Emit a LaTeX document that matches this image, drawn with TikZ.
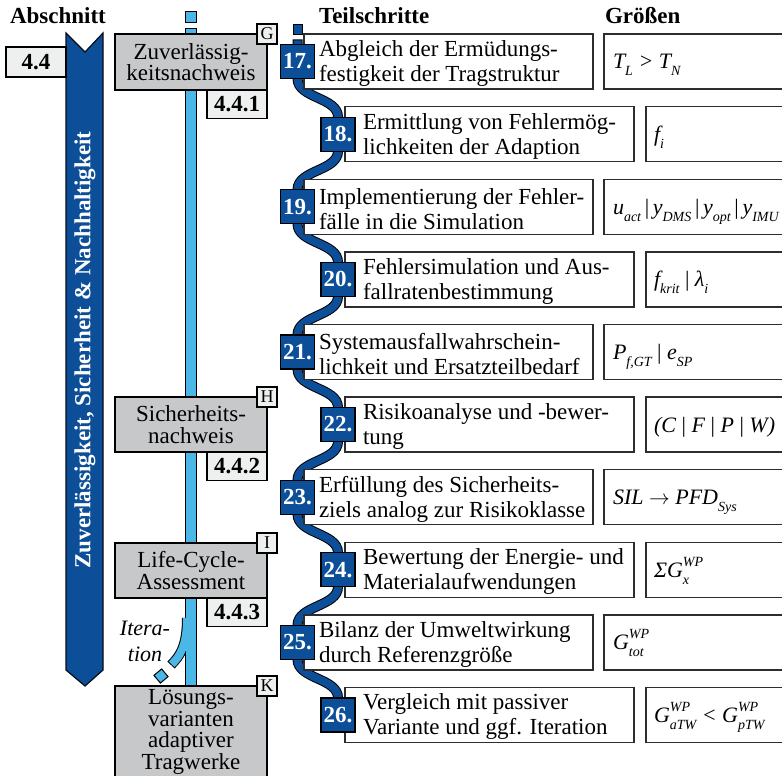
\documentclass[tikz,border=0pt]{standalone}
\usepackage{fontspec}
\setmainfont{Liberation Serif}

\definecolor{dblue}{RGB}{12,78,152}
\definecolor{lblue}{RGB}{74,183,230}
\definecolor{boxgrey}{RGB}{199,200,201}
\definecolor{tagfill}{RGB}{238,239,239}
\definecolor{edge}{RGB}{45,45,45}

\pgfdeclarelayer{paper}
\pgfdeclarelayer{flow}
\pgfsetlayers{paper,flow,main}

% sub- and superscripts for the quantities column
\newcommand\subx[1]{\raisebox{-7pt}{\fontsize{14}{14}\selectfont\itshape #1}}
\newcommand\supx[1]{\raisebox{11pt}{\fontsize{14}{14}\selectfont\itshape #1}}
\newsavebox\upbox
\newsavebox\dnbox
\newcommand\supsubx[2]{\sbox\upbox{\supx{#1}}\sbox\dnbox{\subx{#2}}%
  \ifdim\wd\upbox>\wd\dnbox\rlap{\usebox\dnbox}\usebox\upbox\else\rlap{\usebox\upbox}\usebox\dnbox\fi}
\newcommand\vsep{\,\textup{|}\,}

\begin{document}
\begin{tikzpicture}[x=1pt,y=-1pt,
  every node/.style={inner sep=0pt,outer sep=0pt},
  head/.style={font=\fontsize{23}{25}\selectfont\bfseries,anchor=base west},
  greybox/.style={draw=black,line width=1.2pt,fill=boxgrey,minimum width=152pt,align=center,font=\fontsize{23}{21.5}\selectfont},
  lettertag/.style={draw=black,line width=1.1pt,fill=tagfill,minimum width=20pt,minimum height=20pt,font=\fontsize{18}{18}\selectfont},
  sectag/.style={draw=black,line width=1.2pt,fill=tagfill,minimum width=60pt,minimum height=28.5pt,anchor=north east,font=\fontsize{23}{23}\selectfont\bfseries},
  stepbox/.style={draw=edge,line width=1.4pt,fill=white,minimum width=289pt,minimum height=55pt,anchor=west},
  numbox/.style={draw=black,line width=1.2pt,fill=dblue,minimum width=34pt,minimum height=34pt,text=white,font=\fontsize{23}{23}\selectfont\bfseries},
  steptext/.style={anchor=west,align=left,font=\fontsize{23}{25}\selectfont},
  valbox/.style={draw=edge,line width=1.4pt,fill=white,minimum height=55pt,anchor=west},
  oddval/.style={valbox,minimum width=184pt},
  evenval/.style={valbox,minimum width=142pt},
  valtext/.style={anchor=base west,font=\fontsize{22}{22}\selectfont\itshape},
]
\begin{pgfonlayer}{paper}
  \fill[white] (0,0) rectangle (782,776);
\end{pgfonlayer}
\useasboundingbox (0,0) rectangle (782,776);

% column heads
\node[head] (hA) at (10,24) {Abschnitt};
\node[head] (hT) at (319,24) {Teilschritte};
\node[head] (hG) at (605,24) {Größen};

% section arrow
\draw[fill=dblue,draw=black!85!dblue,line width=1.2pt,line join=miter]
  (66,33) -- (85,52) -- (103,33) -- (103,670) -- (85,686) -- (66,670) -- cycle;
\node[rotate=90,text=white,font=\fontsize{23}{23}\selectfont\bfseries] (vtitle) at (85,350)
  {Zuverlässigkeit, Sicherheit \& Nachhaltigkeit};
\node[draw=black,line width=1.2pt,fill=tagfill,minimum width=60pt,minimum height=30pt,
  font=\fontsize{23}{23}\selectfont\bfseries] (t44) at (36,62) {4.4};

% chapters
\node[greybox,minimum height=56pt] (gG) at (191,62) {Zuverlässig-\\keitsnachweis};
\node[greybox,minimum height=55pt] (gH) at (191,424.5) {Sicherheits-\\nachweis};
\node[greybox,minimum height=55pt] (gI) at (191,570.5) {Life-Cycle-\\Assessment};
\node[greybox,minimum height=92pt] (gK) at (191,732) {Lösungs-\\varianten\\adaptiver\\Tragwerke};
\node[lettertag] (lG) at (gG.north east) {G};
\node[lettertag] (lH) at (gH.north east) {H};
\node[lettertag] (lI) at (gI.north east) {I};
\node[lettertag] (lK) at (gK.north east) {K};
\node[sectag] (s441) at (gG.south east) {4.4.1};
\node[sectag] (s442) at (gH.south east) {4.4.2};
\node[sectag] (s443) at (gI.south east) {4.4.3};

% iteration branch
\node[font=\fontsize{22}{26}\selectfont\itshape,align=center] (iter) at (145,641) {Itera-\\tion};
\coordinate (itstart) at (187,618);
\coordinate (itend) at (171,665);
\node[draw=black,line width=1pt,fill=lblue,minimum size=10pt,rotate=40] (itsq) at (161,676) {};

% top ends of the two flows
\node[draw=black,line width=1pt,fill=lblue,minimum width=11pt,minimum height=11pt] (btop) at (191,17.5) {};
\coordinate (bstart) at (191,28);
\node[draw=black,line width=1pt,fill=dblue,minimum width=9pt,minimum height=10pt] (wtop) at (297.5,30) {};
\coordinate (wstart) at (297.5,39.5);

% steps
\node[stepbox] (b17) at (304,61.5) {};
\node[numbox] (n17) at (297.5,61.5) {17.};
\node[steptext] (x17) at (319,63.5) {Abgleich der Ermüdungs-\\festigkeit der Tragstruktur};
\node[oddval] (v17) at (604,61.5) {};
\node[valtext] (q17) at (613,69) {T\subx{L} > T\subx{N}};

\node[stepbox] (b18) at (345,134.1) {};
\node[numbox] (n18) at (338,134.1) {18.};
\node[steptext] (x18) at (363,136.1) {Ermittlung von Fehlermög-\\lichkeiten der Adaption};
\node[evenval] (v18) at (646,134.1) {};
\node[valtext] (q18) at (654,141.6) {f\subx{i}};

\node[stepbox] (b19) at (304,206.7) {};
\node[numbox] (n19) at (297.5,206.7) {19.};
\node[steptext] (x19) at (319,208.7) {Implementierung der Fehler-\\fälle in die Simulation};
\node[oddval] (v19) at (604,206.7) {};
\node[valtext] (q19) at (613,214.2) {u\subx{act}\vsep y\subx{DMS}\vsep y\subx{opt}\vsep y\subx{IMU}};

\node[stepbox] (b20) at (345,279.3) {};
\node[numbox] (n20) at (338,279.3) {20.};
\node[steptext] (x20) at (363,281.3) {Fehlersimulation und Aus-\\fallratenbestimmung};
\node[evenval] (v20) at (646,279.3) {};
\node[valtext] (q20) at (654,286.8) {f\subx{krit} \textup{|} λ\subx{i}};

\node[stepbox] (b21) at (304,351.9) {};
\node[numbox] (n21) at (297.5,351.9) {21.};
\node[steptext] (x21) at (319,353.9) {Systemausfallwahrschein-\\lichkeit und Ersatzteilbedarf};
\node[oddval] (v21) at (604,351.9) {};
\node[valtext] (q21) at (613,359.4) {P\subx{f,GT} \textup{|} e\subx{SP}};

\node[stepbox] (b22) at (345,424.5) {};
\node[numbox] (n22) at (338,424.5) {22.};
\node[steptext] (x22) at (363,426.5) {Risikoanalyse und -bewer-\\tung};
\node[evenval] (v22) at (646,424.5) {};
\node[valtext] (q22) at (654,432) {(C \textup{|} F \textup{|} P \textup{|} W)};

\node[stepbox] (b23) at (304,497.1) {};
\node[numbox] (n23) at (297.5,497.1) {23.};
\node[steptext] (x23) at (319,499.1) {Erfüllung des Sicherheits-\\ziels analog zur Risikoklasse};
\node[oddval] (v23) at (604,497.1) {};
\node[valtext] (q23) at (613,504.6) {SIL $\rightarrow$ PFD\subx{Sys}};

\node[stepbox] (b24) at (345,569.7) {};
\node[numbox] (n24) at (338,569.7) {24.};
\node[steptext] (x24) at (363,571.7) {Bewertung der Energie- und\\Materialaufwendungen};
\node[evenval] (v24) at (646,569.7) {};
\node[valtext] (q24) at (654,577.2) {ΣG\supsubx{WP}{x}};

\node[stepbox] (b25) at (304,642.3) {};
\node[numbox] (n25) at (297.5,642.3) {25.};
\node[steptext] (x25) at (319,644.3) {Bilanz der Umweltwirkung\\durch Referenzgröße};
\node[oddval] (v25) at (604,642.3) {};
\node[valtext] (q25) at (613,649.8) {G\supsubx{WP}{tot}};

\node[stepbox] (b26) at (345,714.9) {};
\node[numbox] (n26) at (338,714.9) {26.};
\node[steptext] (x26) at (363,716.9) {Vergleich mit passiver\\Variante und ggf. Iteration};
\node[evenval] (v26) at (646,714.9) {};
\node[valtext] (q26) at (654,722.4) {G\supsubx{WP}{aTW} < G\supsubx{WP}{pTW}};

% flows behind the boxes
\begin{pgfonlayer}{flow}
  % light blue chapter bar with the iteration branch
  \draw[black,line width=12pt] (bstart) -- (gK.north);
  \draw[black,line width=10pt] (itstart) .. controls +(0,28) and +(9,-9) .. (itend);
  \draw[lblue,line width=8pt,shorten >=1pt] (itstart) .. controls +(0,28) and +(9,-9) .. (itend);
  \draw[lblue,line width=10pt,shorten <=1pt] (bstart) -- (gK.north);
  % dark blue course through the steps
  \draw[black,line width=10pt]
    (wstart) -- (n17.center) -- (n17.south)
    .. controls +(0,20) and +(0,-20) .. (n18.north) -- (n18.south)
    .. controls +(0,20) and +(0,-20) .. (n19.north) -- (n19.south)
    .. controls +(0,20) and +(0,-20) .. (n20.north) -- (n20.south)
    .. controls +(0,20) and +(0,-20) .. (n21.north) -- (n21.south)
    .. controls +(0,20) and +(0,-20) .. (n22.north) -- (n22.south)
    .. controls +(0,20) and +(0,-20) .. (n23.north) -- (n23.south)
    .. controls +(0,20) and +(0,-20) .. (n24.north) -- (n24.south)
    .. controls +(0,20) and +(0,-20) .. (n25.north) -- (n25.south)
    .. controls +(0,20) and +(0,-20) .. (n26.north) -- (n26.center);
  \draw[dblue,line width=8pt,shorten <=1pt]
    (wstart) -- (n17.center) -- (n17.south)
    .. controls +(0,20) and +(0,-20) .. (n18.north) -- (n18.south)
    .. controls +(0,20) and +(0,-20) .. (n19.north) -- (n19.south)
    .. controls +(0,20) and +(0,-20) .. (n20.north) -- (n20.south)
    .. controls +(0,20) and +(0,-20) .. (n21.north) -- (n21.south)
    .. controls +(0,20) and +(0,-20) .. (n22.north) -- (n22.south)
    .. controls +(0,20) and +(0,-20) .. (n23.north) -- (n23.south)
    .. controls +(0,20) and +(0,-20) .. (n24.north) -- (n24.south)
    .. controls +(0,20) and +(0,-20) .. (n25.north) -- (n25.south)
    .. controls +(0,20) and +(0,-20) .. (n26.north) -- (n26.center);
\end{pgfonlayer}
\end{tikzpicture}
\end{document}
